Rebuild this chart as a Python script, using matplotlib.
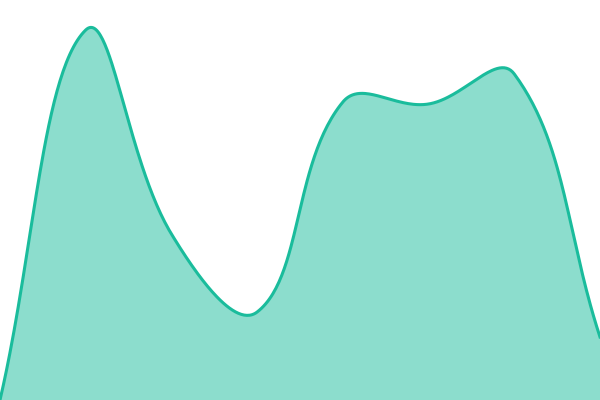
import numpy as np
import matplotlib
matplotlib.use('Agg')
import matplotlib.pyplot as plt

# Evenly spaced categories and their values
categories = [0, 1, 2, 3, 4, 5, 6, 7]
values = [0, 370, 166, 88, 298, 296, 326, 63]

line_color = '#1abc9c'


def spline(xs, ys, tension=0.4, steps=60):
    # smooth bezier line through the data points (chart.js style)
    pts = np.column_stack([xs, ys]).astype(float)
    n = len(pts)
    cp_prev, cp_next = [], []
    for i in range(n):
        prev = pts[i - 1] if i > 0 else pts[i]
        cur = pts[i]
        nxt = pts[i + 1] if i < n - 1 else pts[i]
        d01 = np.linalg.norm(cur - prev)
        d12 = np.linalg.norm(nxt - cur)
        total = d01 + d12
        s01 = d01 / total if total else 0
        s12 = d12 / total if total else 0
        cp_prev.append(cur - tension * s01 * (nxt - prev))
        cp_next.append(cur + tension * s12 * (nxt - prev))
    out = []
    t = np.linspace(0, 1, steps)[:, None]
    for i in range(n - 1):
        p0, p1, p2, p3 = pts[i], cp_next[i], cp_prev[i + 1], pts[i + 1]
        seg = ((1 - t) ** 3) * p0 + 3 * ((1 - t) ** 2) * t * p1 \
            + 3 * (1 - t) * t ** 2 * p2 + t ** 3 * p3
        out.append(seg if i == 0 else seg[1:])
    return np.vstack(out)


fig = plt.figure(figsize=(6, 4), dpi=100)
ax = fig.add_axes([0, 0, 1, 1])

# categories spread over the full width, so the curve is built in screen-like units
x_scaled = np.array(categories) * 600 / (len(categories) - 1)
curve = spline(x_scaled, values)

ax.fill_between(curve[:, 0], curve[:, 1], 0, color=line_color, alpha=0.5, linewidth=0)
ax.plot(curve[:, 0], curve[:, 1], color=line_color, linewidth=2.2)

ax.set_xlim(0, 600)
ax.set_ylim(0, 400)
ax.axis('off')

fig.savefig('out.png', dpi=100)
